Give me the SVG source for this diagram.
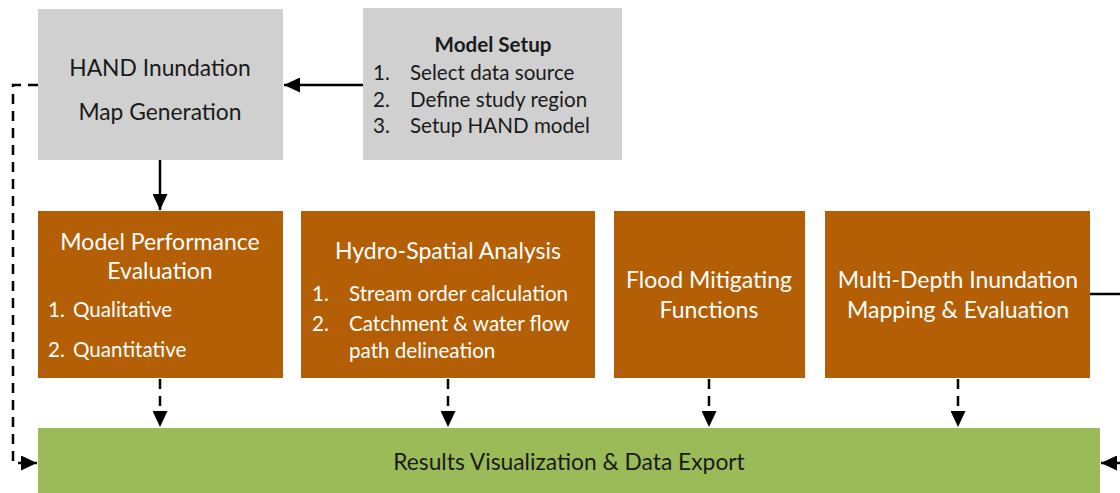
<svg xmlns="http://www.w3.org/2000/svg" width="1120" height="493" viewBox="0 0 1120 493">
<style>
.gray{fill:#d0d0d0}
.org{fill:#b45f06}
.grn{fill:#9bbb59}
text{font-family:Lato,"Open Sans","Liberation Sans",sans-serif}
.t{font-size:22.8px;fill:#1a1a1a}
.w{font-size:23px;fill:#ffffff}
.ws{font-size:20.6px;fill:#ffffff}
.bs{font-size:20.6px;fill:#1a1a1a}
.c{text-anchor:middle}
.ln{stroke:#000;stroke-width:2.5;fill:none}
.ds{stroke:#000;stroke-width:2.5;fill:none;stroke-dasharray:10,7}
</style>
<defs>
<marker id="ah2" viewBox="0 0 10 10" refX="10" refY="5" markerWidth="16" markerHeight="15" markerUnits="userSpaceOnUse" orient="auto" preserveAspectRatio="none">
<path d="M0,0 L10,5 L0,10 z" fill="#000"/>
</marker>
</defs>
<g id="connectors">
<line class="ln" x1="363" y1="85" x2="284" y2="85" marker-end="url(#ah2)"/>
<line class="ln" x1="160" y1="160" x2="160" y2="210" marker-end="url(#ah2)"/>
<line class="ds" x1="160" y1="379" x2="160" y2="427" marker-end="url(#ah2)"/>
<line class="ds" x1="448" y1="379" x2="448" y2="427" marker-end="url(#ah2)"/>
<line class="ds" x1="709" y1="379" x2="709" y2="427" marker-end="url(#ah2)"/>
<line class="ds" x1="958" y1="379" x2="958" y2="427" marker-end="url(#ah2)"/>
<polyline class="ds" points="38,85 13,85 13,463 37,463" marker-end="url(#ah2)"/>
<line class="ln" x1="1090" y1="294" x2="1120" y2="294"/>
<line class="ln" x1="1122" y1="463" x2="1101" y2="463" marker-end="url(#ah2)"/>
</g>
<g id="hand">
<rect class="gray" x="38" y="9" width="245" height="151"/>
<text class="t c" x="160" y="76">HAND Inundation</text>
<text class="t c" x="160" y="120">Map Generation</text>
</g>
<g id="setup">
<rect class="gray" x="363" y="8" width="259" height="152"/>
<text class="bs c" x="493" y="52" font-weight="bold" font-size="23">Model Setup</text>
<text class="bs" x="373" y="80">1.</text><text class="bs" x="410" y="80">Select data source</text>
<text class="bs" x="373" y="107">2.</text><text class="bs" x="410" y="107">Define study region</text>
<text class="bs" x="373" y="133">3.</text><text class="bs" x="410" y="133">Setup HAND model</text>
</g>
<g id="perf">
<rect class="org" x="38" y="211" width="245" height="167"/>
<text class="w c" x="160" y="250">Model Performance</text>
<text class="w c" x="160" y="279">Evaluation</text>
<text class="ws" x="48" y="317">1.</text><text class="ws" x="73" y="317">Qualitative</text>
<text class="ws" x="48" y="357">2.</text><text class="ws" x="73" y="357">Quantitative</text>
</g>
<g id="hydro">
<rect class="org" x="301" y="211" width="294" height="167"/>
<text class="w c" x="448" y="259">Hydro-Spatial Analysis</text>
<text class="ws" x="312" y="301">1.</text><text class="ws" x="349" y="301">Stream order calculation</text>
<text class="ws" x="312" y="331">2.</text><text class="ws" x="349" y="331">Catchment &amp; water flow</text>
<text class="ws" x="349" y="358">path delineation</text>
</g>
<g id="flood">
<rect class="org" x="614" y="211" width="191" height="167"/>
<text class="w c" x="709" y="288">Flood Mitigating</text>
<text class="w c" x="709" y="318">Functions</text>
</g>
<g id="multi">
<rect class="org" x="825" y="211" width="265" height="167"/>
<text class="w c" x="958" y="288">Multi-Depth Inundation</text>
<text class="w c" x="958" y="318">Mapping &amp; Evaluation</text>
</g>
<g id="results">
<rect class="grn" x="38" y="428" width="1062" height="65"/>
<text class="t c" x="569" y="470">Results Visualization &amp; Data Export</text>
</g>
</svg>
